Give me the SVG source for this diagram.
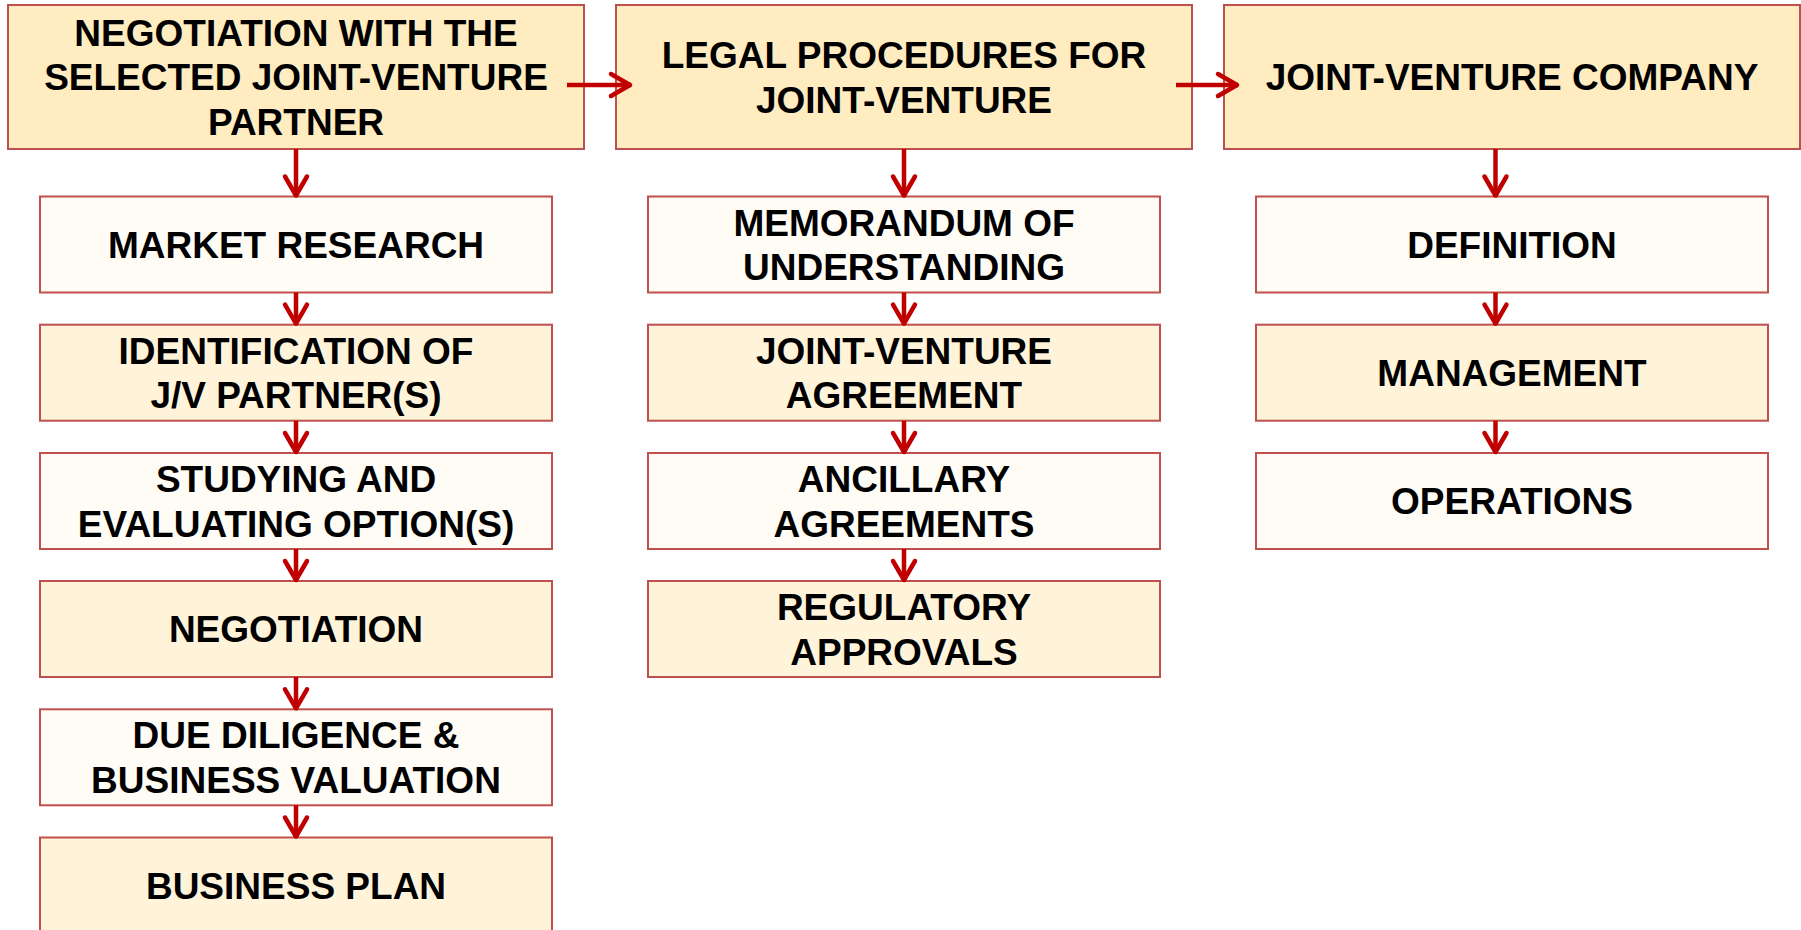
<svg xmlns="http://www.w3.org/2000/svg" width="1801" height="930" viewBox="0 0 1801 930">
<style>
  .hdr { fill: #FFECC0; stroke: #C0504D; stroke-width: 2; }
  .lt { fill: #FFFCF5; stroke: #C0504D; stroke-width: 2; }
  .yl { fill: #FFF4DA; stroke: #C0504D; stroke-width: 2; }
  text { font-family: "Liberation Sans", Arial, sans-serif; font-weight: bold; font-size: 37px; fill: #000; text-anchor: middle; }
  .conn line { stroke: #C00000; stroke-width: 4.5; marker-end: url(#chev); }
</style>
<defs>
  <marker id="chev" markerUnits="userSpaceOnUse" viewBox="-30 -15 32 30" refX="0" refY="0" markerWidth="32" markerHeight="30" orient="auto" overflow="visible">
    <path d="M-20,-11 L-1,0 L-20,11" fill="none" stroke="#C00000" stroke-width="4.5" stroke-linejoin="round" stroke-linecap="round"/>
  </marker>
</defs>
<rect width="1801" height="930" fill="#FFFFFF"/>

<g id="h1"><rect class="hdr" x="8" y="5" width="576" height="144"/>
<text x="296" y="45.8">NEGOTIATION WITH THE</text><text x="296" y="90.3">SELECTED JOINT-VENTURE</text><text x="296" y="134.8">PARTNER</text></g>
<g id="h2"><rect class="hdr" x="616" y="5" width="576" height="144"/>
<text x="904" y="68">LEGAL PROCEDURES FOR</text><text x="904" y="112.5">JOINT-VENTURE</text></g>
<g id="h3"><rect class="hdr" x="1224" y="5" width="576" height="144"/>
<text x="1512" y="90.3">JOINT-VENTURE COMPANY</text></g>

<g id="l1"><rect class="lt" x="40" y="196.5" width="512" height="96"/><text x="296" y="257.8">MARKET RESEARCH</text></g>
<g id="l2"><rect class="yl" x="40" y="324.7" width="512" height="96"/><text x="296" y="363.7">IDENTIFICATION OF</text><text x="296" y="408.2">J/V PARTNER(S)</text></g>
<g id="l3"><rect class="lt" x="40" y="453" width="512" height="96"/><text x="296" y="492">STUDYING AND</text><text x="296" y="536.5">EVALUATING OPTION(S)</text></g>
<g id="l4"><rect class="yl" x="40" y="581" width="512" height="96"/><text x="296" y="642.3">NEGOTIATION</text></g>
<g id="l5"><rect class="lt" x="40" y="709.3" width="512" height="96"/><text x="296" y="748.3">DUE DILIGENCE &amp;</text><text x="296" y="792.8">BUSINESS VALUATION</text></g>
<g id="l6"><rect class="yl" x="40" y="837.5" width="512" height="100"/><text x="296" y="898.8">BUSINESS PLAN</text></g>

<g id="m1"><rect class="lt" x="648" y="196.5" width="512" height="96"/><text x="904" y="235.5">MEMORANDUM OF</text><text x="904" y="280">UNDERSTANDING</text></g>
<g id="m2"><rect class="yl" x="648" y="324.7" width="512" height="96"/><text x="904" y="363.7">JOINT-VENTURE</text><text x="904" y="408.2">AGREEMENT</text></g>
<g id="m3"><rect class="lt" x="648" y="453" width="512" height="96"/><text x="904" y="492">ANCILLARY</text><text x="904" y="536.5">AGREEMENTS</text></g>
<g id="m4"><rect class="yl" x="648" y="581" width="512" height="96"/><text x="904" y="620">REGULATORY</text><text x="904" y="664.5">APPROVALS</text></g>

<g id="r1"><rect class="lt" x="1256" y="196.5" width="512" height="96"/><text x="1512" y="257.8">DEFINITION</text></g>
<g id="r2"><rect class="yl" x="1256" y="324.7" width="512" height="96"/><text x="1512" y="386">MANAGEMENT</text></g>
<g id="r3"><rect class="lt" x="1256" y="453" width="512" height="96"/><text x="1512" y="514.3">OPERATIONS</text></g>

<g id="connectors" class="conn">
  <line x1="567" y1="85" x2="631" y2="85"/>
  <line x1="1176" y1="85" x2="1238" y2="85"/>
  <line x1="296" y1="149" x2="296" y2="196.5"/>
  <line x1="296" y1="292.5" x2="296" y2="324.7"/>
  <line x1="296" y1="420.7" x2="296" y2="453"/>
  <line x1="296" y1="549" x2="296" y2="581"/>
  <line x1="296" y1="677" x2="296" y2="709.3"/>
  <line x1="296" y1="805.3" x2="296" y2="837.5"/>
  <line x1="904" y1="149" x2="904" y2="196.5"/>
  <line x1="904" y1="292.5" x2="904" y2="324.7"/>
  <line x1="904" y1="420.7" x2="904" y2="453"/>
  <line x1="904" y1="549" x2="904" y2="581"/>
  <line x1="1495.5" y1="149" x2="1495.5" y2="196.5"/>
  <line x1="1495.5" y1="292.5" x2="1495.5" y2="324.7"/>
  <line x1="1495.5" y1="420.7" x2="1495.5" y2="453"/>
</g>
</svg>
